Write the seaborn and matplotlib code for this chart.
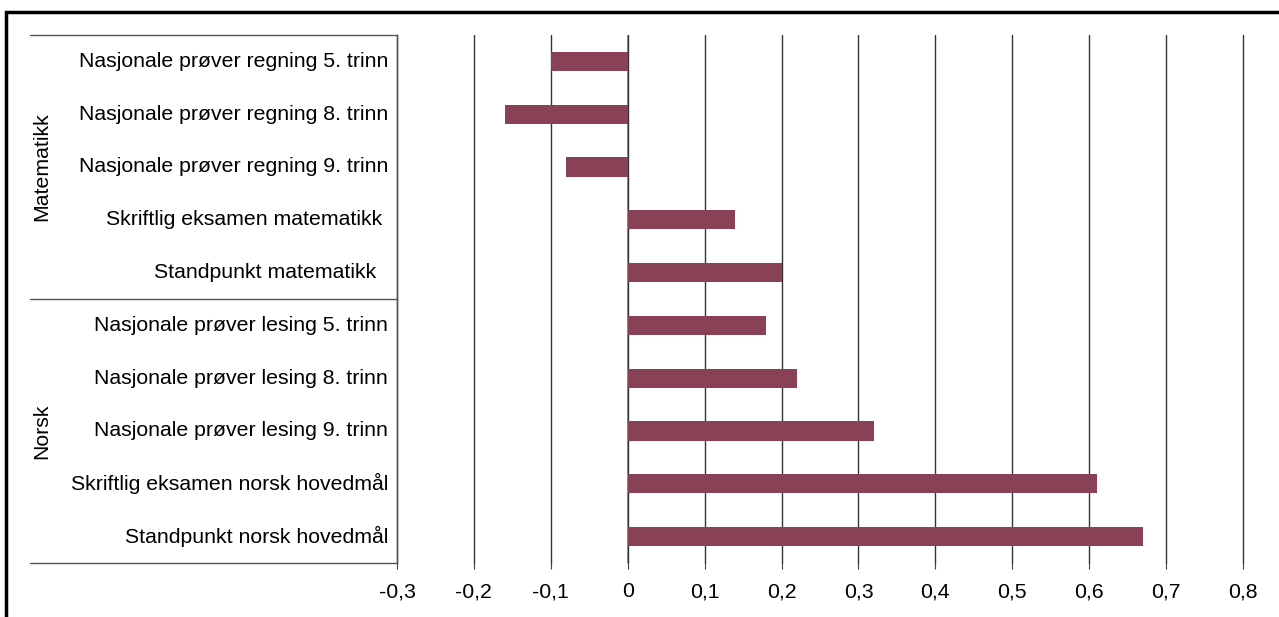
import numpy as np
import pandas as pd
import seaborn as sns
import matplotlib.pyplot as plt
import matplotlib.transforms as mtransforms
from matplotlib.patches import Rectangle
from matplotlib.lines import Line2D

# data
categories = ['Nasjonale prøver regning 5. trinn',
              'Nasjonale prøver regning 8. trinn',
              'Nasjonale prøver regning 9. trinn',
              'Skriftlig eksamen matematikk ',
              'Standpunkt matematikk  ',
              'Nasjonale prøver lesing 5. trinn',
              'Nasjonale prøver lesing 8. trinn',
              'Nasjonale prøver lesing 9. trinn',
              'Skriftlig eksamen norsk hovedmål',
              'Standpunkt norsk hovedmål']
values = [-0.10, -0.16, -0.08, 0.14, 0.20, 0.18, 0.22, 0.32, 0.61, 0.67]
groups = ['Matematikk', 'Norsk']
group_sizes = [5, 5]
xticks = [-0.3, -0.2, -0.1, 0, 0.1, 0.2, 0.3, 0.4, 0.5, 0.6, 0.7, 0.8]

df = pd.DataFrame({'kategori': categories, 'verdi': values})

sns.set_style('white')
plt.rcParams['font.family'] = ['Liberation Sans', 'DejaVu Sans']
plt.rcParams['text.color'] = 'black'
plt.rcParams['xtick.color'] = 'black'

fs = 15.3
W, H = 1279, 617
fig = plt.figure(figsize=(W / 100, H / 100), dpi=100)
ax = fig.add_axes([397 / W, (H - 563) / H, (1243 - 397) / W, (563 - 35) / H])

sns.barplot(data=df, x='verdi', y='kategori', orient='h', color='#884155',
            saturation=1, width=0.36, linewidth=0, ax=ax)

ax.set_xlim(-0.3, 0.8)
ax.set_ylim(len(categories) - 0.5, -0.5)
ax.set_xticks(xticks)
ax.set_xticklabels([('%g' % t).replace('.', ',') for t in xticks], fontsize=fs)
ax.set_yticks([])
ax.set_xlabel('')
ax.set_ylabel('')
ax.tick_params(axis='x', direction='out', length=4, color='#404040', pad=10, bottom=True)
ax.grid(axis='x', color='#333333', linewidth=1)
for gl in ax.get_xgridlines():
    gl.set_clip_on(False)
ax.set_axisbelow(True)
for s in ['top', 'right', 'bottom']:
    ax.spines[s].set_visible(False)
ax.spines['left'].set_color('#555555')
ax.spines['left'].set_linewidth(1)
ax.axvline(0, color='#888888', linewidth=1.2, zorder=0.5)

# category labels + group lines on the left
trans = mtransforms.blended_transform_factory(fig.transFigure, ax.transData)
for i, c in enumerate(categories):
    ax.text(388 / W, i, c, transform=trans, ha='right', va='center', fontsize=fs)

box_l, box_r = 30 / W, 397 / W
lc = '#555555'
ax.add_line(Line2D([box_l, box_r], [-0.5, -0.5], transform=trans, color=lc, lw=1, clip_on=False))
start = -0.5
for g, n in zip(groups, group_sizes):
    end = start + n
    ax.add_line(Line2D([box_l, box_r], [end, end], transform=trans, color=lc, lw=1, clip_on=False))
    ax.text(42 / W, (start + end) / 2, g, transform=trans, rotation=90,
            ha='center', va='center', fontsize=fs)
    start = end

# outer frame (cut at the right and bottom edges like the source)
fig.patches.append(Rectangle((6 / W, -0.1), 1.2, 1.1 - 12 / H,
                             transform=fig.transFigure, fill=False,
                             edgecolor='black', linewidth=2.5))

fig.savefig('out.png', dpi=100)
